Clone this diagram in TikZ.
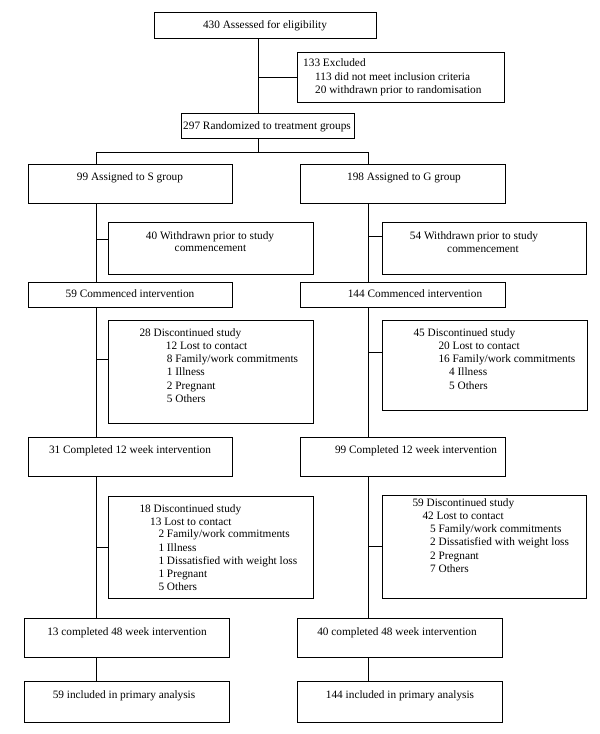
\documentclass[tikz,border=0pt]{standalone}
\usepackage{fontspec}
\setmainfont{Liberation Serif}
\begin{document}
\begin{tikzpicture}[x=1pt,y=-1pt,
  box/.style={draw, line width=1pt, fill=white, inner sep=0pt, outer sep=0pt},
  txt/.style={font=\fontsize{11.3}{13.2}\selectfont, inner sep=0pt, anchor=base},
  ltxt/.style={txt, anchor=base west},
  conn/.style={line width=1pt}]
\useasboundingbox (0,0) rectangle (600,734);
% boxes
\node[box, minimum width=222, minimum height=26] (A) at (265,25) {};
\node[box, minimum width=207, minimum height=50] (E) at (400.5,77) {};
\node[box, minimum width=173, minimum height=25] (R) at (267.5,125.5) {};
\node[box, minimum width=204, minimum height=39] (S) at (130,183.5) {};
\node[box, minimum width=205, minimum height=39] (G) at (402.5,183.5) {};
\node[box, minimum width=205, minimum height=52] (WS) at (210.5,248) {};
\node[box, minimum width=204, minimum height=52] (WG) at (484,248) {};
\node[box, minimum width=204, minimum height=25] (CS) at (130,294.5) {};
\node[box, minimum width=205, minimum height=25] (CG) at (402.5,294.5) {};
\node[box, minimum width=205, minimum height=103] (DS1) at (210.5,371.5) {};
\node[box, minimum width=205, minimum height=90] (DG1) at (484.5,365) {};
\node[box, minimum width=204, minimum height=39] (QS) at (130,456.5) {};
\node[box, minimum width=205, minimum height=39] (QG) at (402.5,456.5) {};
\node[box, minimum width=205, minimum height=102] (DS2) at (210.5,547) {};
\node[box, minimum width=204, minimum height=103] (DG2) at (484,546.5) {};
\node[box, minimum width=205, minimum height=39] (FS) at (126.5,637.5) {};
\node[box, minimum width=205, minimum height=39] (FG) at (399.5,637.5) {};
\node[box, minimum width=205, minimum height=41] (IS) at (126.5,701.5) {};
\node[box, minimum width=205, minimum height=41] (IG) at (399.5,701.5) {};
% coordinates
\coordinate (mx) at (258,0);
\coordinate (sl) at (96,152);
\coordinate (sr) at (368,152);
\coordinate (sm) at (258,152);
% connectors
\draw[conn] (A.south -| mx) -- (R.north -| mx);
\draw[conn] (E.west -| mx) -- (E.west);
\draw[conn] (R.south -| mx) -- (sm);
\draw[conn] (S.north -| sl) -- (sl) -- (sr) -- (G.north -| sr);
\draw[conn] (S.south -| sl) -- (CS.north -| sl);
\draw[conn] (CS.south -| sl) -- (QS.north -| sl);
\draw[conn] (QS.south -| sl) -- (FS.north -| sl);
\draw[conn] (FS.south -| sl) -- (IS.north -| sl);
\draw[conn] (G.south -| sr) -- (CG.north -| sr);
\draw[conn] (CG.south -| sr) -- (QG.north -| sr);
\draw[conn] (QG.south -| sr) -- (FG.north -| sr);
\draw[conn] (FG.south -| sr) -- (IG.north -| sr);
\path (WS.north west) ++(0,17) coordinate (wsj);
\path (WG.north west) ++(0,14) coordinate (wgj);
\path (DS1.north west) ++(0,39) coordinate (ds1j);
\path (DG1.north west) ++(0,32) coordinate (dg1j);
\draw[conn] (wsj -| sl) -- (wsj);
\draw[conn] (wgj -| sr) -- (wgj);
\draw[conn] (ds1j -| sl) -- (ds1j);
\draw[conn] (dg1j -| sr) -- (dg1j);
\draw[conn] (DS2.west -| sl) -- (DS2.west);
\draw[conn] (DG2.west -| sr) -- (DG2.west);
% texts
\node[txt] (tA) at (265,28.5) {430 Assessed for eligibility};
\node[ltxt] (tE1) at (303,66.8) {133 Excluded};
\node[ltxt] (tE2) at (315,80.2) {113 did not meet inclusion criteria};
\node[ltxt] (tE3) at (315,93.4) {20 withdrawn prior to randomisation};
\node[txt] (tR) at (267,129) {297 Randomized to treatment groups};
\node[txt] (tS) at (130,180.8) {99 Assigned to S group};
\node[txt] (tG) at (404,180.8) {198 Assigned to G group};
\node[txt] (tWS1) at (210,239.2) {40 Withdrawn prior to study};
\node[txt] (tWS2) at (210.5,251.8) {commencement};
\node[txt] (tWG1) at (474,239.2) {54 Withdrawn prior to study};
\node[txt] (tWG2) at (483,252.5) {commencement};
\node[txt] (tCS) at (130,297.5) {59 Commenced intervention};
\node[txt] (tCG) at (415,297.5) {144 Commenced intervention};
% DS1
\node[ltxt] (a1) at (139.3,336.8) {28 Discontinued study};
\node[ltxt] (a2) at (165.7,349.5) {12 Lost to contact};
\node[ltxt] (a3) at (166.7,362.5) {8 Family/work commitments};
\node[ltxt] (a4) at (166.7,375.8) {1 Illness};
\node[ltxt] (a5) at (166.7,389.2) {2 Pregnant};
\node[ltxt] (a6) at (166.7,402.5) {5 Others};
% DG1
\node[ltxt] (b1) at (413.3,336.8) {45 Discontinued study};
\node[ltxt] (b2) at (438.3,349.5) {20 Lost to contact};
\node[ltxt] (b3) at (438.3,362.5) {16 Family/work commitments};
\node[ltxt] (b4) at (449,375.8) {4 Illness};
\node[ltxt] (b5) at (449,389.2) {5 Others};
\node[txt] (tQS) at (130,453.5) {31 Completed 12 week intervention};
\node[txt] (tQG) at (416,453.5) {99 Completed 12 week intervention};
% DS2
\node[ltxt] (c1) at (139.3,512.5) {18 Discontinued study};
\node[ltxt] (c2) at (150,525.2) {13 Lost to contact};
\node[ltxt] (c3) at (158.3,537.8) {2 Family/work commitments};
\node[ltxt] (c4) at (158.3,551.2) {1 Illness};
\node[ltxt] (c5) at (158.3,564.5) {1 Dissatisfied with weight loss};
\node[ltxt] (c6) at (158.3,577.5) {1 Pregnant};
\node[ltxt] (c7) at (158.3,590.2) {5 Others};
% DG2
\node[ltxt] (d1) at (412.3,506.8) {59 Discontinued study};
\node[ltxt] (d2) at (422.3,519.5) {42 Lost to contact};
\node[ltxt] (d3) at (430,532.8) {5 Family/work commitments};
\node[ltxt] (d4) at (430,545.8) {2 Dissatisfied with weight loss};
\node[ltxt] (d5) at (430,559.2) {2 Pregnant};
\node[ltxt] (d6) at (430,572.5) {7 Others};
\node[txt] (tFS) at (127,635.2) {13 completed 48 week intervention};
\node[txt] (tFG) at (397,635.2) {40 completed 48 week intervention};
\node[txt] (tIS) at (124,698.5) {59 included in primary analysis};
\node[txt] (tIG) at (400,698.5) {144 included in primary analysis};
\end{tikzpicture}
\end{document}
